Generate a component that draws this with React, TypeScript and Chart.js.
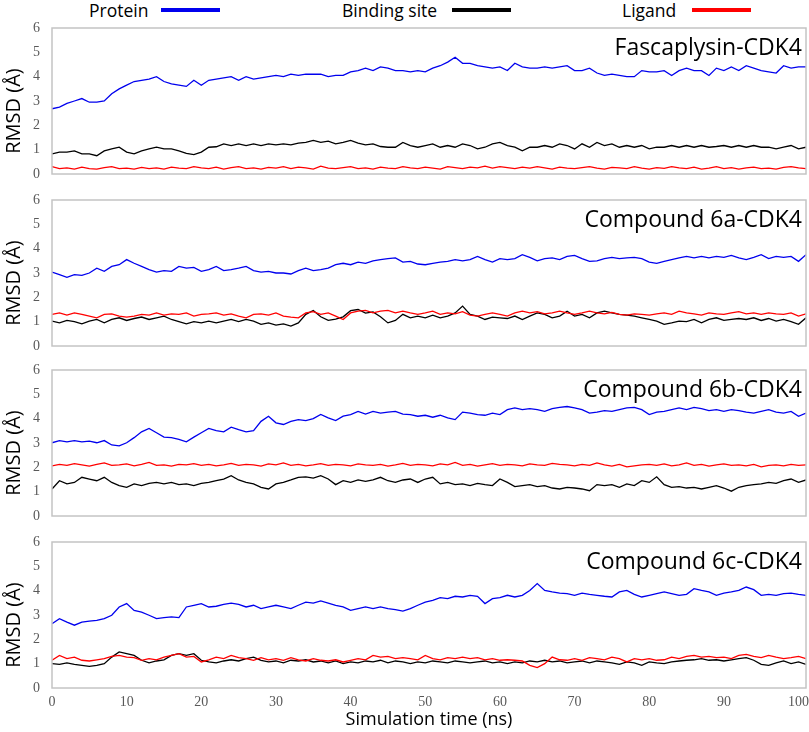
import { useEffect, useRef } from "react";
import { Chart, registerables } from "chart.js";

Chart.register(...registerables);

// simulation time (ns), one sample per ns
const timeNs = [
  0, 1, 2, 3, 4, 5, 6, 7, 8, 9, 10, 11, 12, 13, 14, 15, 16, 17, 18, 19, 20,
  21, 22, 23, 24, 25, 26, 27, 28, 29, 30, 31, 32, 33, 34, 35, 36, 37, 38, 39,
  40, 41, 42, 43, 44, 45, 46, 47, 48, 49, 50, 51, 52, 53, 54, 55, 56, 57, 58,
  59, 60, 61, 62, 63, 64, 65, 66, 67, 68, 69, 70, 71, 72, 73, 74, 75, 76, 77,
  78, 79, 80, 81, 82, 83, 84, 85, 86, 87, 88, 89, 90, 91, 92, 93, 94, 95, 96,
  97, 98, 99, 100, 101,
];

const xTicks = [0, 10, 20, 30, 40, 50, 60, 70, 80, 90, 100];
const yTicks = [0, 1, 2, 3, 4, 5, 6];

const seriesNames = ["Protein", "Binding site", "Ligand"];
const seriesColors = ["#0000ee", "#000000", "#ff0000"];

// Fascaplysin-CDK4
const fascProtein = [
  2.68, 2.75, 2.9, 3.0, 3.1, 2.95, 2.95, 3.0, 3.3, 3.5,
  3.65, 3.8, 3.85, 3.9, 4.0, 3.8, 3.7, 3.65, 3.6, 3.85,
  3.65, 3.85, 3.9, 3.95, 4.0, 3.85, 4.0, 3.9, 3.95, 4.0,
  4.05, 4.0, 4.1, 4.05, 4.1, 4.1, 4.1, 4.0, 4.05, 4.05,
  4.2, 4.25, 4.35, 4.25, 4.4, 4.35, 4.25, 4.25, 4.2, 4.25,
  4.2, 4.35, 4.45, 4.6, 4.8, 4.55, 4.55, 4.45, 4.4, 4.35,
  4.4, 4.25, 4.55, 4.4, 4.35, 4.35, 4.4, 4.35, 4.4, 4.45,
  4.25, 4.25, 4.35, 4.15, 4.05, 4.1, 4.05, 4.0, 4.0, 4.25,
  4.2, 4.2, 4.25, 4.05, 4.25, 4.35, 4.25, 4.25, 4.05, 4.35,
  4.25, 4.4, 4.25, 4.45, 4.35, 4.25, 4.2, 4.15, 4.45, 4.35, 4.4, 4.4,
];
const fascSite = [
  0.83, 0.9, 0.9, 0.95, 0.83, 0.83, 0.75, 0.95, 1.03, 1.1,
  0.9, 0.83, 0.95, 1.03, 1.1, 1.03, 1.03, 0.95, 0.85, 0.8,
  0.9, 1.1, 1.12, 1.24, 1.17, 1.24, 1.17, 1.24, 1.17, 1.24,
  1.2, 1.24, 1.2, 1.27, 1.3, 1.38, 1.3, 1.35, 1.24, 1.3,
  1.38, 1.27, 1.2, 1.24, 1.13, 1.1, 1.1, 1.3, 1.17, 1.1,
  1.17, 1.24, 1.1, 1.17, 1.1, 1.24, 1.17, 1.03, 1.1, 1.24,
  1.3, 1.17, 1.1, 0.95, 1.1, 1.1, 1.17, 1.1, 1.24, 1.17,
  1.03, 1.24, 1.1, 1.3, 1.17, 1.24, 1.1, 1.17, 1.1, 1.17,
  1.03, 1.1, 1.1, 1.17, 1.1, 1.17, 1.1, 1.17, 1.1, 1.13,
  1.17, 1.1, 1.17, 1.1, 1.17, 1.1, 1.1, 1.03, 1.1, 1.17, 1.03, 1.1,
];
const fascLigand = [
  0.3, 0.22, 0.25, 0.2, 0.28, 0.22, 0.2, 0.26, 0.3, 0.22,
  0.24, 0.2, 0.27, 0.22, 0.25, 0.2, 0.28, 0.24, 0.22, 0.3,
  0.25, 0.22, 0.28, 0.2, 0.26, 0.3, 0.22, 0.25, 0.2, 0.27,
  0.24, 0.3, 0.22, 0.28, 0.25, 0.2, 0.32, 0.24, 0.22, 0.26,
  0.3, 0.22, 0.25, 0.2, 0.28, 0.24, 0.22, 0.3, 0.25, 0.22,
  0.28, 0.24, 0.2, 0.3, 0.26, 0.22, 0.28, 0.25, 0.32, 0.24,
  0.3, 0.26, 0.22, 0.28, 0.24, 0.3, 0.25, 0.2, 0.28, 0.24,
  0.22, 0.26, 0.3, 0.24, 0.2, 0.27, 0.25, 0.22, 0.3, 0.24,
  0.2, 0.26, 0.23, 0.3, 0.25, 0.22, 0.28, 0.2, 0.24, 0.3,
  0.22, 0.26, 0.2, 0.25, 0.28, 0.22, 0.24, 0.2, 0.27, 0.3, 0.25, 0.22,
];

// Compound 6a-CDK4
const c6aProtein = [
  3.04, 2.93, 2.82, 2.93, 2.9, 3.0, 3.2, 3.07, 3.27, 3.34,
  3.55, 3.4, 3.27, 3.14, 3.04, 3.1, 3.07, 3.27, 3.2, 3.23,
  3.07, 3.14, 3.27, 3.1, 3.14, 3.2, 3.27, 3.1, 3.04, 3.07,
  3.0, 3.0, 2.96, 3.1, 3.2, 3.1, 3.14, 3.2, 3.34, 3.4,
  3.34, 3.45, 3.4, 3.5, 3.55, 3.59, 3.62, 3.45, 3.48, 3.37,
  3.34, 3.4, 3.45, 3.48, 3.55, 3.5, 3.55, 3.68, 3.55, 3.45,
  3.59, 3.55, 3.59, 3.75, 3.64, 3.5, 3.59, 3.62, 3.55, 3.68,
  3.72, 3.59, 3.48, 3.5, 3.59, 3.64, 3.59, 3.62, 3.64, 3.59,
  3.45, 3.4, 3.48, 3.55, 3.62, 3.68, 3.62, 3.68, 3.62, 3.68,
  3.64, 3.72, 3.62, 3.55, 3.64, 3.75, 3.59, 3.68, 3.64, 3.68, 3.48, 3.75,
];
const c6aSite = [
  1.02, 0.95, 1.05, 1.0, 0.91, 1.02, 1.09, 0.95, 1.09, 1.16,
  1.05, 1.13, 1.19, 1.09, 1.16, 1.23, 1.09, 1.0, 0.91, 1.0,
  0.95, 1.02, 0.95, 1.02, 1.09, 1.0, 1.09, 1.02, 0.89, 0.95,
  0.86, 0.91, 0.82, 0.95, 1.3, 1.46, 1.2, 1.05, 1.1, 1.2,
  1.45, 1.5, 1.35, 1.4, 1.2, 0.95, 1.05, 1.3, 1.16, 1.23,
  1.16, 1.27, 1.16, 1.23, 1.36, 1.64, 1.3, 1.23, 1.09, 1.19,
  1.16, 1.13, 1.23, 1.09, 1.23, 1.36, 1.3, 1.16, 1.23, 1.43,
  1.23, 1.3, 1.16, 1.36, 1.43, 1.36, 1.3, 1.27, 1.23, 1.16,
  1.09, 1.02, 0.89, 0.95, 1.02, 1.0, 1.09, 0.95, 1.09, 1.16,
  1.05, 1.09, 1.13, 1.09, 1.16, 1.05, 1.13, 1.02, 1.09, 1.0, 0.89, 1.16,
];
const c6aLigand = [
  1.3, 1.36, 1.27, 1.36, 1.3, 1.23, 1.16, 1.3, 1.32, 1.23,
  1.19, 1.23, 1.3, 1.27, 1.36, 1.27, 1.32, 1.3, 1.36, 1.23,
  1.3, 1.32, 1.36, 1.27, 1.32, 1.23, 1.16, 1.3, 1.32, 1.27,
  1.36, 1.23, 1.19, 1.16, 1.36, 1.41, 1.3, 1.36, 1.23, 1.09,
  1.36, 1.43, 1.46, 1.36, 1.43, 1.46, 1.36, 1.43, 1.36, 1.3,
  1.36, 1.43, 1.3, 1.36, 1.32, 1.41, 1.27, 1.23, 1.3, 1.36,
  1.3, 1.23, 1.36, 1.43, 1.36, 1.41, 1.32, 1.36, 1.43, 1.36,
  1.3, 1.36, 1.43, 1.36, 1.32, 1.38, 1.3, 1.27, 1.32, 1.3,
  1.27, 1.32, 1.36, 1.3, 1.43, 1.36, 1.32, 1.27, 1.36, 1.32,
  1.3, 1.36, 1.41, 1.32, 1.36, 1.3, 1.36, 1.32, 1.3, 1.36, 1.23, 1.32,
];

// Compound 6b-CDK4
const c6bProtein = [
  3.01, 3.1, 3.05, 3.1, 3.05, 3.08, 3.01, 3.1, 2.92, 2.88,
  3.01, 3.22, 3.46, 3.6, 3.42, 3.24, 3.22, 3.15, 3.05, 3.24,
  3.42, 3.6, 3.51, 3.46, 3.65, 3.55, 3.46, 3.51, 3.89, 4.1,
  3.83, 3.76, 3.89, 3.96, 3.92, 4.0, 4.17, 4.03, 3.92, 4.1,
  4.17, 4.3, 4.19, 4.3, 4.23, 4.27, 4.3, 4.19, 4.17, 4.1,
  4.14, 4.06, 4.14, 4.03, 3.96, 4.27, 4.23, 4.17, 4.14, 4.23,
  4.17, 4.37, 4.44, 4.37, 4.41, 4.37, 4.3, 4.41, 4.46, 4.5,
  4.44, 4.37, 4.23, 4.27, 4.33, 4.3, 4.37, 4.44, 4.46, 4.37,
  4.17, 4.27, 4.3, 4.37, 4.44, 4.37, 4.46, 4.41, 4.33, 4.37,
  4.3, 4.37, 4.33, 4.27, 4.23, 4.3, 4.37, 4.27, 4.23, 4.3, 4.1, 4.23,
];
const c6bSite = [
  1.11, 1.45, 1.32, 1.38, 1.59, 1.52, 1.45, 1.59, 1.38, 1.25,
  1.18, 1.32, 1.25, 1.34, 1.38, 1.32, 1.38, 1.29, 1.32, 1.25,
  1.34, 1.38, 1.45, 1.52, 1.66, 1.48, 1.38, 1.32, 1.18, 1.11,
  1.32, 1.38, 1.48, 1.59, 1.61, 1.56, 1.66, 1.52, 1.29, 1.45,
  1.38, 1.48, 1.42, 1.48, 1.59, 1.45, 1.38, 1.48, 1.52, 1.38,
  1.52, 1.59, 1.32, 1.38, 1.29, 1.32, 1.25, 1.34, 1.29, 1.25,
  1.52, 1.38, 1.21, 1.25, 1.29, 1.21, 1.25, 1.15, 1.11, 1.18,
  1.15, 1.11, 1.04, 1.29, 1.25, 1.29, 1.18, 1.32, 1.25, 1.45,
  1.38, 1.61, 1.29, 1.18, 1.21, 1.15, 1.18, 1.11, 1.18, 1.25,
  1.15, 1.02, 1.18, 1.25, 1.29, 1.32, 1.38, 1.34, 1.45, 1.52, 1.38, 1.48,
];
const c6bLigand = [
  2.06, 2.12, 2.08, 2.15, 2.1, 2.05, 2.12, 2.18, 2.08, 2.1,
  2.14, 2.06, 2.12, 2.2, 2.08, 2.1, 2.05, 2.12, 2.1, 2.15,
  2.08, 2.12, 2.06, 2.1, 2.16, 2.08, 2.12, 2.1, 2.05, 2.14,
  2.1, 2.18, 2.08, 2.12, 2.06, 2.1, 2.15, 2.08, 2.12, 2.1,
  2.06, 2.14, 2.1, 2.08, 2.12, 2.05, 2.1, 2.16, 2.08, 2.12,
  2.1, 2.06, 2.14, 2.1, 2.2, 2.08, 2.12, 2.05, 2.1, 2.15,
  2.08, 2.12, 2.1, 2.06, 2.14, 2.1, 2.08, 2.16, 2.12, 2.1,
  2.06, 2.12, 2.08, 2.18, 2.1, 2.05, 2.12, 2.02, 2.06, 2.1,
  2.12, 2.08, 2.14, 2.06, 2.1, 2.18, 2.08, 2.12, 2.05, 2.1,
  2.14, 2.08, 2.1, 2.06, 2.12, 2.02, 2.08, 2.1, 2.06, 2.12, 2.08, 2.1,
];

// Compound 6c-CDK4
const c6cProtein = [
  2.64, 2.85, 2.71, 2.58, 2.71, 2.75, 2.78, 2.85, 2.99, 3.33,
  3.47, 3.19, 3.12, 2.99, 2.85, 2.89, 2.92, 2.89, 3.33, 3.4,
  3.47, 3.33, 3.36, 3.44, 3.49, 3.44, 3.33, 3.4, 3.26, 3.33,
  3.4, 3.33, 3.26, 3.4, 3.53, 3.49, 3.58, 3.49, 3.4, 3.33,
  3.19, 3.26, 3.33, 3.26, 3.33, 3.26, 3.22, 3.16, 3.26, 3.4,
  3.53, 3.6, 3.71, 3.67, 3.77, 3.74, 3.81, 3.77, 3.47, 3.67,
  3.71, 3.81, 3.74, 3.81, 4.01, 4.29, 4.01, 3.95, 3.9, 3.88,
  3.81, 3.9, 3.85, 3.81, 3.77, 3.74, 3.95, 4.01, 3.85, 3.74,
  3.81, 3.88, 3.95, 3.88, 3.81, 3.85, 4.08, 4.01, 3.95, 3.81,
  3.9, 3.95, 4.01, 4.15, 4.04, 3.81, 3.85, 3.81, 3.88, 3.9, 3.85, 3.81,
];
const c6cSite = [
  1.0, 0.97, 1.03, 0.97, 0.93, 0.89, 0.93, 1.0, 1.27, 1.48,
  1.41, 1.34, 1.14, 1.03, 1.11, 1.16, 1.34, 1.41, 1.34, 1.41,
  1.14, 1.07, 1.03, 1.11, 1.16, 1.11, 1.21, 1.27, 1.14, 1.07,
  1.11, 1.03, 1.14, 1.11, 1.16, 1.07, 1.11, 1.03, 1.11, 1.0,
  1.07, 1.03, 1.11, 1.07, 1.14, 1.03, 1.11, 1.07, 1.0, 1.07,
  1.03, 1.11, 1.07, 1.03, 1.11, 1.07, 1.03, 1.07, 1.11, 1.03,
  1.07, 1.0, 1.07, 1.03, 1.11, 1.07, 1.14, 1.07, 1.11, 1.03,
  1.07, 1.11, 1.03, 1.11, 1.07, 1.03, 0.97, 1.07, 1.03, 0.93,
  1.07, 1.03, 1.0, 1.07, 1.11, 1.14, 1.16, 1.21, 1.14, 1.16,
  1.11, 1.16, 1.21, 1.25, 1.14, 0.97, 0.93, 1.03, 1.11, 1.0, 1.07, 0.97,
];
const c6cLigand = [
  1.14, 1.34, 1.21, 1.27, 1.14, 1.11, 1.16, 1.21, 1.3, 1.34,
  1.27, 1.25, 1.14, 1.21, 1.16, 1.27, 1.34, 1.41, 1.27, 1.3,
  1.07, 1.16, 1.27, 1.21, 1.34, 1.25, 1.21, 1.14, 1.25, 1.16,
  1.21, 1.14, 1.25, 1.16, 1.11, 1.21, 1.14, 1.11, 1.16, 1.07,
  1.14, 1.21, 1.16, 1.34, 1.27, 1.3, 1.21, 1.25, 1.21, 1.16,
  1.34, 1.21, 1.16, 1.25, 1.21, 1.27, 1.21, 1.25, 1.16, 1.21,
  1.14, 1.16, 1.14, 1.11, 0.93, 0.84, 1.0, 1.27, 1.16, 1.14,
  1.21, 1.14, 1.25, 1.21, 1.16, 1.27, 1.21, 1.07, 1.21, 1.16,
  1.21, 1.14, 1.16, 1.27, 1.21, 1.3, 1.34, 1.27, 1.3, 1.25,
  1.27, 1.21, 1.34, 1.38, 1.3, 1.25, 1.34, 1.27, 1.21, 1.25, 1.3, 1.21,
];

const panels = [
  { title: "Fascaplysin-CDK4", series: [fascProtein, fascSite, fascLigand] },
  { title: "Compound 6a-CDK4", series: [c6aProtein, c6aSite, c6aLigand] },
  { title: "Compound 6b-CDK4", series: [c6bProtein, c6bSite, c6bLigand] },
  { title: "Compound 6c-CDK4", series: [c6cProtein, c6cSite, c6cLigand] },
];

const SANS = "'Open Sans', 'Noto Sans', sans-serif";
const SERIF = "'Liberation Serif', 'DejaVu Serif', serif";

// frame round the plot, the panel name and the rotated y title
const panelDecor = {
  id: "panelDecor",
  afterDraw(chart: any, _args: any, opts: any) {
    const { ctx, chartArea: a } = chart;
    ctx.save();
    ctx.strokeStyle = "#c4c4c4";
    ctx.lineWidth = 1.5;
    ctx.strokeRect(a.left, a.top, a.right - a.left, a.bottom - a.top);

    ctx.fillStyle = "#000";
    ctx.font = `23px ${SANS}`;
    ctx.textAlign = "right";
    ctx.textBaseline = "alphabetic";
    ctx.fillText(opts.title, a.right - 4, a.top + 27);

    ctx.translate(14, (a.top + a.bottom) / 2 + 10);
    ctx.rotate(-Math.PI / 2);
    ctx.font = `20px ${SANS}`;
    ctx.textAlign = "center";
    ctx.textBaseline = "middle";
    ctx.fillText("RMSD (Å)", 0, 0);
    ctx.restore();
  },
};

const PLOT_H = 146;
const PAD_TOP = 10;

function Panel({ index, top }: { index: number; top: number }) {
  const canvasRef = useRef<HTMLCanvasElement | null>(null);
  const last = index === panels.length - 1;
  const bottomSpace = last ? 44 : 4;
  const height = PAD_TOP + PLOT_H + bottomSpace;

  useEffect(() => {
    if (!canvasRef.current) return;
    const panel = panels[index];
    const chart = new Chart(canvasRef.current, {
      type: "line",
      data: {
        datasets: panel.series.map((vals, i) => ({
          label: seriesNames[i],
          data: vals.map((v, j) => ({ x: timeNs[j], y: v })),
          borderColor: seriesColors[i],
          borderWidth: 1.3,
          pointRadius: 0,
          tension: 0,
          order: 2 - i,
        })),
      },
      options: {
        responsive: false,
        animation: false,
        layout: { padding: { top: PAD_TOP, right: 3, bottom: last ? 1 : 4, left: 0 } },
        plugins: {
          legend: { display: false },
          tooltip: { enabled: false },
          panelDecor: { title: panel.title },
        } as any,
        scales: {
          x: {
            type: "linear",
            min: 0,
            max: 101,
            display: last,
            grid: { display: false, drawTicks: false },
            border: { display: false },
            afterBuildTicks: (s: any) => {
              s.ticks = xTicks.map((v) => ({ value: v }));
            },
            afterFit: (s: any) => {
              s.height = last ? 43 : 0;
              s.paddingLeft = 0;
              s.paddingRight = 0;
            },
            ticks: {
              padding: 6,
              maxRotation: 0,
              color: "#595959",
              font: { family: SERIF, size: 14 },
            },
            title: {
              display: true,
              text: "Simulation time (ns)",
              color: "#000",
              font: { family: SANS, size: 18 },
              padding: { top: 0, bottom: 0 },
            },
          },
          y: {
            min: 0,
            max: 6,
            grid: { display: false, drawTicks: false },
            border: { display: false },
            afterBuildTicks: (s: any) => {
              s.ticks = yTicks.map((v) => ({ value: v }));
            },
            afterFit: (s: any) => {
              s.width = 52;
              s.paddingTop = 0;
              s.paddingBottom = 0;
            },
            ticks: {
              padding: 12,
              color: "#595959",
              font: { family: SERIF, size: 14 },
            },
          },
        },
      },
      plugins: [panelDecor],
    });
    return () => chart.destroy();
  }, [index, last]);

  return (
    <div style={{ position: "absolute", left: 0, top: top - PAD_TOP, width: 809, height }}>
      <canvas ref={canvasRef} width={809} height={height} style={{ display: "block" }} />
    </div>
  );
}

const legendItem = (label: string, color: string, textLeft: number, lineLeft: number) => (
  <div key={label}>
    <span
      style={{
        position: "absolute",
        left: textLeft,
        top: 0,
        fontFamily: SANS,
        fontSize: 17.5,
        lineHeight: "20px",
        color: "#000",
        whiteSpace: "nowrap",
      }}
    >
      {label}
    </span>
    <span
      style={{
        position: "absolute",
        left: lineLeft,
        top: 8,
        width: 59,
        height: 4,
        background: color,
      }}
    />
  </div>
);

export default function App() {
  const tops = [28, 200, 370, 542];
  return (
    <div
      style={{
        position: "absolute",
        left: 0,
        top: 0,
        width: 809,
        height: 732,
        background: "#fff",
        overflow: "hidden",
      }}
    >
      {legendItem(seriesNames[0], seriesColors[0], 89, 161)}
      {legendItem(seriesNames[1], seriesColors[1], 342, 452)}
      {legendItem(seriesNames[2], seriesColors[2], 622, 692)}
      {panels.map((p, i) => (
        <Panel key={p.title} index={i} top={tops[i]} />
      ))}
    </div>
  );
}
